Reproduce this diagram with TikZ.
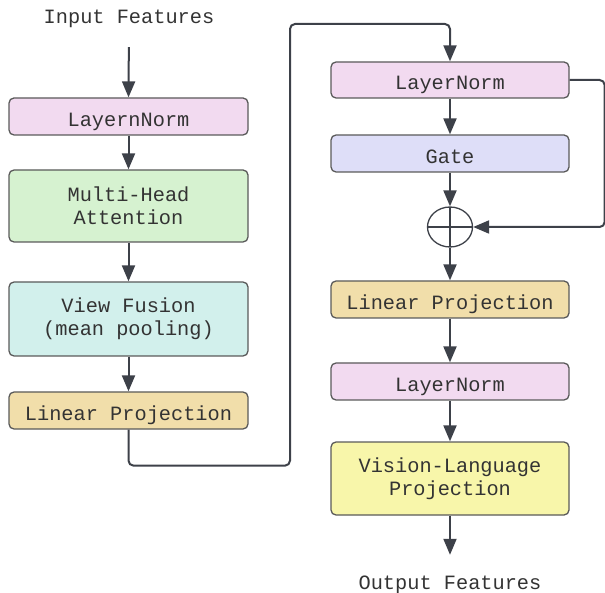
\documentclass[tikz,border=0pt]{standalone}
\usepackage{fontspec}
\setmonofont{Liberation Mono}
\usetikzlibrary{arrows.meta,shapes.geometric}
\definecolor{edgec}{HTML}{3D4149}
\definecolor{boxline}{HTML}{5A5A5A}
\definecolor{textc}{HTML}{333333}
\definecolor{pinkc}{HTML}{F2DAF0}
\definecolor{greenc}{HTML}{D6F2D0}
\definecolor{cyanc}{HTML}{D2F0EC}
\definecolor{tanc}{HTML}{F1DEAA}
\definecolor{lavc}{HTML}{DEDEF8}
\definecolor{yellowc}{HTML}{F8F6AA}
\begin{document}
\begin{tikzpicture}[x=1pt,y=-1pt,
  font=\ttfamily\fontsize{20.3}{23}\selectfont,
  box/.style={draw=boxline, line width=1.3pt, rounded corners=5pt, inner sep=0pt,
    align=center, text=textc},
  sl/.style={text height=20pt, text depth=0pt},
  lbox/.style={box, minimum width=239pt},
  rbox/.style={box, minimum width=238pt},
  lbl/.style={inner sep=0pt, text=textc, sl},
  arr/.style={draw=edgec, line width=2pt, -{Triangle[length=16pt,width=13pt]}}]
\useasboundingbox (0,0) rectangle (605,593);
% left column
\node[lbl] (in) at (129,14) {Input Features};
\node[lbox, sl, fill=pinkc, minimum height=37pt] (ln1) at (128.5,116.5) {LayernNorm};
\node[lbox, fill=greenc, minimum height=72pt] (mha) at (128.5,206) {Multi-Head\\Attention};
\node[lbox, fill=cyanc, minimum height=74pt] (vf) at (128.5,319) {View Fusion\\(mean pooling)};
\node[lbox, sl, fill=tanc, minimum height=37pt] (lp1) at (128.5,410.5) {Linear Projection};
% right column
\node[rbox, sl, fill=pinkc, minimum height=36pt] (ln2) at (450,80) {LayerNorm};
\node[rbox, sl, fill=lavc, minimum height=37pt] (gate) at (450,153.5) {Gate};
\node[draw=edgec, line width=1.3pt, ellipse, minimum width=45pt, minimum height=40pt, inner sep=0pt,
  path picture={\draw[edgec, line width=1.3pt] (path picture bounding box.north) -- (path picture bounding box.south)
  (path picture bounding box.west) -- (path picture bounding box.east);}] (plus) at (450,227) {};
\node[rbox, sl, fill=tanc, minimum height=37pt] (lp2) at (450,299.5) {Linear Projection};
\node[rbox, sl, fill=pinkc, minimum height=37pt] (ln3) at (450,381.5) {LayerNorm};
\node[rbox, fill=yellowc, minimum height=73pt] (vl) at (450,478.5) {Vision-Language\\Projection};
\node[lbl] (out) at (450,579) {Output Features};
% connectors
\draw[arr, shorten <=23pt] (in.south) -- (ln1.north);
\draw[arr] (ln1.south) -- (mha.north);
\draw[arr] (mha.south) -- (vf.north);
\draw[arr] (vf.south) -- (lp1.north);
\draw[arr, rounded corners=5pt] (lp1.south) -- ++(0,36) -| (290,24) -| (ln2.north);
\draw[arr] (ln2.south) -- (gate.north);
\draw[arr] (gate.south) -- (plus.north);
\draw[arr, rounded corners=5pt] (ln2.east) -- ++(35,0) |- (plus.east);
\draw[arr] (plus.south) -- (lp2.north);
\draw[arr] (lp2.south) -- (ln3.north);
\draw[arr] (ln3.south) -- (vl.north);
\draw[arr, shorten >=14pt] (vl.south) -- (out.north);
\end{tikzpicture}
\end{document}
